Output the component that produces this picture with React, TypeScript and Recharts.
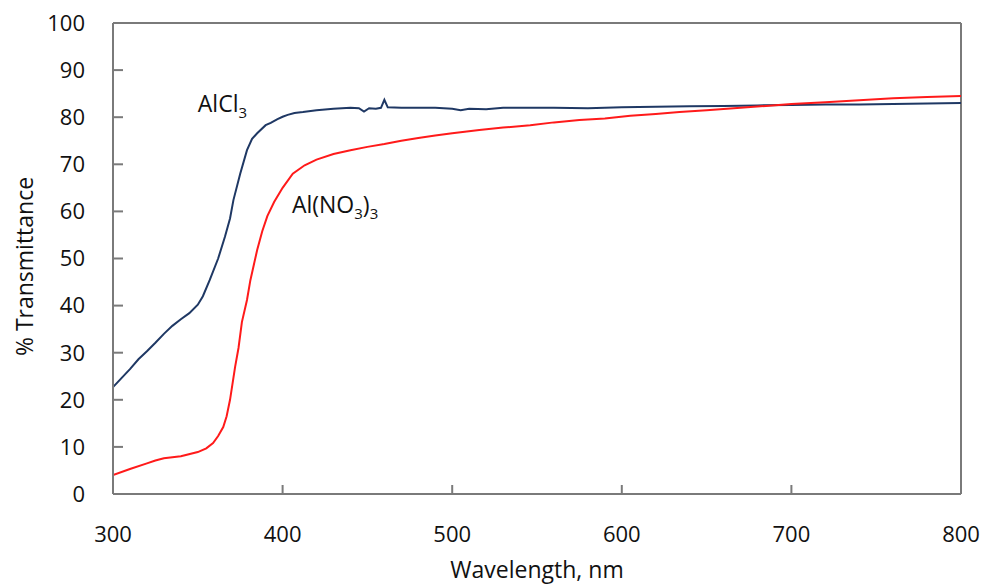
import { Line, LineChart, ReferenceDot, ReferenceLine, XAxis, YAxis } from 'recharts';

// AlCl3 film spectrum (navy)
const alcl3Wavelength = [
  300, 305, 310, 315, 320, 325, 330, 335, 340, 345, 350, 353, 357, 362, 366, 369, 371, 375, 379, 382, 385,
  390, 393, 397, 400, 403, 407, 412, 420, 430, 440, 445, 448, 451, 455, 458, 460, 462, 470, 480, 490, 500,
  505, 510, 520, 530, 540, 560, 580, 600, 620, 640, 660, 680, 700, 720, 740, 760, 780, 800,
];
const alcl3Transmittance = [
  22.7, 24.6, 26.5, 28.6, 30.3, 32.1, 34.0, 35.7, 37.1, 38.4, 40.2, 42.0, 45.4, 50.0, 54.6, 58.5, 62.4, 68.0,
  73.0, 75.4, 76.6, 78.3, 78.8, 79.6, 80.1, 80.5, 80.9, 81.1, 81.5, 81.8, 82.0, 81.9, 81.2, 81.9, 81.8, 82.0,
  83.7, 82.1, 82.0, 82.0, 82.0, 81.8, 81.5, 81.8, 81.7, 82.0, 82.0, 82.0, 81.9, 82.1, 82.2, 82.3, 82.4, 82.5,
  82.6, 82.7, 82.7, 82.8, 82.9, 83.0,
];

// Al(NO3)3 film spectrum (red)
const nitrateWavelength = [
  300, 310, 320, 325, 330, 340, 350, 355, 359, 362, 365, 367, 369, 372, 374, 376, 379, 381, 385, 388, 391,
  395, 400, 406, 413, 420, 430, 440, 450, 460, 470, 480, 490, 500, 516, 530, 546, 560, 575, 590, 605, 620,
  634, 650, 670, 685, 700, 720, 740, 760, 780, 800,
];
const nitrateTransmittance = [
  4.0, 5.3, 6.5, 7.1, 7.6, 8.0, 8.9, 9.7, 10.8, 12.3, 14.2, 16.5, 20.0, 27.0, 31.0, 36.5, 41.2, 45.4, 51.8,
  55.8, 59.0, 62.0, 65.0, 68.0, 69.8, 71.0, 72.2, 73.0, 73.7, 74.3, 75.0, 75.6, 76.1, 76.6, 77.3, 77.8, 78.3,
  78.9, 79.4, 79.7, 80.3, 80.7, 81.1, 81.5, 82.0, 82.4, 82.8, 83.2, 83.6, 84.0, 84.3, 84.5,
];

const xTicks = [300, 400, 500, 600, 700, 800];
const yTicks = [0, 10, 20, 30, 40, 50, 60, 70, 80, 90, 100];

const alcl3Data = alcl3Wavelength.map((wl, i) => ({ wl, t: alcl3Transmittance[i] }));
const nitrateData = nitrateWavelength.map((wl, i) => ({ wl, t: nitrateTransmittance[i] }));

const FONT = '"Open Sans", "Liberation Sans", sans-serif';
const AXIS = '#7a7a7a';
const NAVY = '#1f3864';
const RED = '#ff1a1a';

function AlCl3Label({ viewBox }: any) {
  return (
    <text x={viewBox.x} y={viewBox.y} fontFamily={FONT} fontSize={23} fill="#111">
      AlCl
      <tspan dy={6} fontSize={15}>3</tspan>
    </text>
  );
}

function NitrateLabel({ viewBox }: any) {
  return (
    <text x={viewBox.x} y={viewBox.y} fontFamily={FONT} fontSize={23} fill="#111">
      Al(NO
      <tspan dy={6} fontSize={15}>3</tspan>
      <tspan dy={-6}>)</tspan>
      <tspan dy={6} fontSize={15}>3</tspan>
    </text>
  );
}

function YTitle({ viewBox }: any) {
  const cx = viewBox.x - 29;
  const cy = viewBox.y + viewBox.height / 2 + 8;
  return (
    <text
      x={cx}
      y={cy}
      transform={`rotate(-90 ${cx} ${cy})`}
      textAnchor="middle"
      dominantBaseline="central"
      fontFamily={FONT}
      fontSize={23}
      fill="#111"
    >
      % Transmittance
    </text>
  );
}

export default function App() {
  return (
    <div style={{ position: 'absolute', left: 0, top: 0, background: '#fff' }}>
      <LineChart width={984} height={585} margin={{ top: 23, right: 23, bottom: 11, left: 53 }}>
        <XAxis
          type="number"
          dataKey="wl"
          domain={[300, 800]}
          ticks={xTicks}
          allowDataOverflow
          stroke={AXIS}
          strokeWidth={2}
          tickSize={-9}
          tickMargin={41}
          height={80}
          tick={{ fontSize: 22, fill: '#111', fontFamily: FONT }}
          label={{ value: 'Wavelength, nm', position: 'insideBottom', offset: -4, fontSize: 23, fill: '#111', fontFamily: FONT }}
        />
        <YAxis
          type="number"
          dataKey="t"
          domain={[0, 100]}
          ticks={yTicks}
          allowDataOverflow
          stroke={AXIS}
          strokeWidth={2}
          tickSize={-10}
          tickMargin={38}
          width={60}
          tick={{ fontSize: 22, fill: '#111', fontFamily: FONT }}
          label={<YTitle />}
        />
        <ReferenceLine y={100} stroke={AXIS} strokeWidth={2} />
        <ReferenceLine x={800} stroke={AXIS} strokeWidth={2} />
        <Line
          data={alcl3Data}
          dataKey="t"
          type="linear"
          stroke={NAVY}
          strokeWidth={2}
          dot={false}
          isAnimationActive={false}
        />
        <Line
          data={nitrateData}
          dataKey="t"
          type="linear"
          stroke={RED}
          strokeWidth={2}
          dot={false}
          isAnimationActive={false}
        />
        <ReferenceDot x={350} y={81.1} r={0} stroke="none" label={<AlCl3Label />} />
        <ReferenceDot x={405.5} y={59.7} r={0} stroke="none" label={<NitrateLabel />} />
      </LineChart>
    </div>
  );
}
